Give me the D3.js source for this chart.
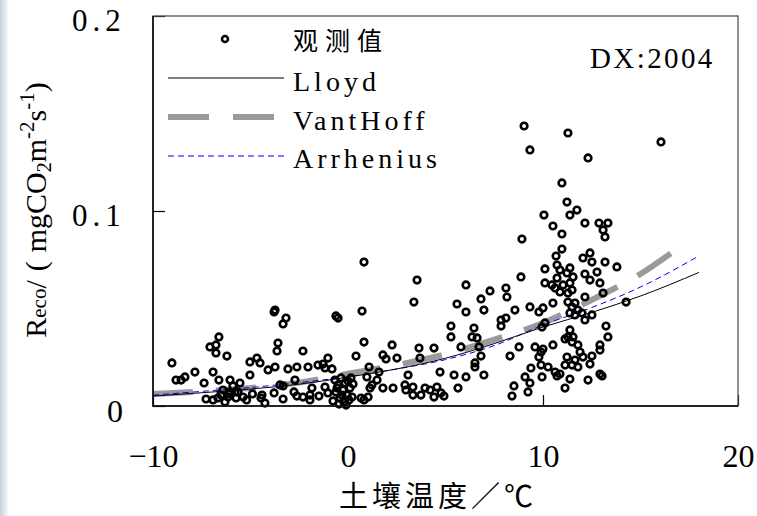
<!DOCTYPE html>
<html>
<head>
<meta charset="utf-8">
<script src="https://cdn.jsdelivr.net/npm/d3@7"></script>
<style>
  body { margin: 0; background: #fff; }
  svg { display: block; }
</style>
</head>
<body>
<svg id="chart"></svg>
<script>
// observed points (soil temperature, Reco)
const obsTemp = [
  -9.03,-8.82,-8.56,-8.36,-7.85,-7.38,-6.92,-6.62,-6.62,-7.08,-6.77,-6.77,-6.21,-6.05,-5.54,-5.90,-5.79,-6.05,-6.41,-5.03,
  -5.03,-4.67,-4.51,-4.10,-3.74,-3.59,-3.64,-3.79,-3.74,-3.18,-3.33,-3.49,-7.28,-6.92,-6.67,-6.31,-6.15,-5.74,-5.38,-4.46,
  -4.26,-4.41,-6.51,-5.64,-3.79,-3.33,-6.10,-5.20,-4.90,
  -0.62,-0.51,0.72,0.82,0.82,0.41,-2.31,2.26,1.79,1.95,2.51,-3.08,-2.62,-2.05,-1.54,-1.28,-1.03,-1.18,-0.82,-2.72,
  -2.77,-2.31,-1.95,-1.95,-1.49,-1.18,-1.03,-2.62,-3.33,-1.85,-0.67,-0.51,-0.36,-0.26,-0.15,-0.05,-0.41,-0.62,-0.21,0.05,
  0.15,0.10,-0.77,-0.46,-0.10,0.21,-0.31,0.26,-0.56,0.00,0.67,1.03,0.82,1.08,1.59,0.97,1.49,1.13,1.79,2.31,
  2.92,2.97,3.08,1.23,
  3.38,3.54,3.64,3.69,4.41,4.72,3.33,3.74,3.95,4.21,4.56,4.77,4.92,4.41,3.33,5.44,6.05,5.64,5.28,5.28,
  5.59,6.05,6.05,5.79,6.46,6.62,6.36,6.72,6.82,6.51,6.51,6.97,6.82,6.97,7.28,7.85,7.85,8.10,8.10,8.15,
  8.31,8.77,8.87,8.56,8.51,9.08,9.33,8.41,9.23,
  9.38,9.90,9.95,9.59,9.90,9.79,9.33,9.79,10.00,10.10,9.95,10.10,10.10,8.92,9.03,9.33,11.28,12.31,16.05,10.97,
  11.23,11.74,11.38,10.05,10.51,10.97,12.15,12.87,13.33,13.08,13.18,10.97,10.67,12.41,12.05,13.18,12.51,10.72,10.87,11.23,
  11.38,11.54,13.79,12.77,12.92,12.41,12.15,10.46,10.72,10.62,10.87,11.03,11.38,11.49,11.28,13.08,12.15,14.26,10.51,11.28,
  11.49,11.64,11.79,11.38,11.64,12.00,12.15,12.51,13.23,11.38,11.28,13.33,11.13,11.54,11.79,11.49,10.51,12.92,12.92,10.00,
  11.90,12.05,12.51,11.64,11.23,11.13,11.49,11.79,12.41,10.26,10.62,10.87,10.72,11.38,12.31,12.92,13.03,11.13
];
const obsReco = [
  0.0221,0.0133,0.0133,0.0149,0.0174,0.0118,0.0174,0.0133,0.0354,0.0303,0.0313,0.0272,0.0256,0.0133,0.0118,0.0103,0.0072,0.0072,0.0082,0.0159,
  0.0226,0.0246,0.0221,0.0185,0.0200,0.0323,0.0282,0.0482,0.0492,0.0451,0.0421,0.0108,0.0036,0.0031,0.0041,0.0021,0.0046,0.0041,0.0046,0.0041,
  0.0015,0.0056,0.0056,0.0072,0.0067,0.0103,0.0062,0.0031,0.0062,
  0.0462,0.0451,0.0487,0.0738,0.0328,0.0256,0.0282,0.0313,0.0262,0.0241,0.0246,0.0190,0.0200,0.0200,0.0210,0.0215,0.0246,0.0195,0.0190,0.0133,
  0.0072,0.0046,0.0056,0.0031,0.0051,0.0097,0.0067,0.0051,0.0036,0.0092,0.0133,0.0108,0.0144,0.0082,0.0118,0.0056,0.0041,0.0072,0.0021,0.0031,
  0.0144,0.0092,0.0026,0.0010,0.0005,0.0046,0.0056,0.0113,0.0092,0.0128,0.0041,0.0046,0.0031,0.0200,0.0174,0.0149,0.0133,0.0092,0.0092,0.0092,
  0.0108,0.0082,0.0159,0.0108,
  0.0533,0.0646,0.0297,0.0246,0.0297,0.0174,0.0056,0.0056,0.0092,0.0082,0.0097,0.0067,0.0051,0.0046,0.0097,0.0159,0.0149,0.0092,0.0410,0.0354,
  0.0523,0.0482,0.0621,0.0303,0.0400,0.0349,0.0354,0.0303,0.0256,0.0221,0.0200,0.0159,0.0549,0.0492,0.0590,0.0441,0.0410,0.0451,0.0605,0.0559,
  0.0256,0.0303,0.0662,0.0492,0.0103,0.0149,0.0118,0.0051,0.0072,
  0.0195,0.0210,0.0149,0.0303,0.0277,0.0251,0.0508,0.0482,0.0503,0.0426,0.0405,0.0703,0.0631,0.0856,0.1436,0.1313,0.1400,0.1272,0.1354,0.1144,
  0.1046,0.1005,0.0979,0.0979,0.0923,0.0882,0.0938,0.0938,0.0938,0.0903,0.0867,0.0805,0.0769,0.0785,0.0759,0.0738,0.0738,0.0723,0.0697,0.0682,
  0.0708,0.0662,0.0713,0.0687,0.0631,0.0646,0.0677,0.0621,0.0656,0.0605,0.0585,0.0621,0.0631,0.0595,0.0579,0.0579,0.0559,0.0533,0.0528,0.0533,
  0.0508,0.0528,0.0492,0.0477,0.0467,0.0477,0.0441,0.0467,0.0410,0.0390,0.0354,0.0354,0.0344,0.0354,0.0313,0.0328,0.0313,0.0313,0.0287,0.0292,
  0.0277,0.0251,0.0256,0.0236,0.0251,0.0210,0.0210,0.0200,0.0215,0.0200,0.0174,0.0164,0.0154,0.0138,0.0133,0.0164,0.0154,0.0092
];

// fitted curves
const curveTemp = [-10, -7.5, -5, -2.5, 0, 2.5, 5, 7.5, 10, 12.5, 15, 18];
const lloydVals = [0.0051, 0.0068, 0.0087, 0.0112, 0.0148, 0.0190, 0.0245, 0.0320, 0.0405, 0.0480, 0.0564, 0.0685];
const arrheniusVals = [0.0056, 0.0075, 0.0095, 0.0120, 0.0150, 0.0190, 0.0238, 0.0310, 0.0415, 0.0505, 0.0610, 0.0770];
const vantHoffTemp = [-10, -7.5, -5, -2.5, 0, 2.5, 5, 7.5, 10, 12.5, 15, 17];
const vantHoffVals = [0.0062, 0.0075, 0.0092, 0.0120, 0.0165, 0.0210, 0.0265, 0.0340, 0.0426, 0.0544, 0.0677, 0.0815];

const xTicks = [-10, 0, 10, 20];
const yTicks = [0, 0.1, 0.2];
const yTickLabels = ["0", "0.1", "0.2"];

const width = 757, height = 516;
const svg = d3.select("#chart").attr("width", width).attr("height", height);

const x = d3.scaleLinear().domain([-10, 20]).range([153, 738]);
const y = d3.scaleLinear().domain([0, 0.2]).range([406, 16]);

const serifFont = "'Liberation Serif', 'DejaVu Serif', serif";
const cjkFont = "'Noto Sans CJK SC', sans-serif";

// faint strip on the left edge of the screenshot
const defs = svg.append("defs");
const grad = defs.append("linearGradient").attr("id", "edge").attr("x1", 0).attr("x2", 1);
grad.append("stop").attr("offset", 0).attr("stop-color", "#c5cfdc");
grad.append("stop").attr("offset", 1).attr("stop-color", "#ffffff");
svg.append("rect").attr("x", 0).attr("y", 0).attr("width", 9).attr("height", height).attr("fill", "url(#edge)");

// axes (ticks point inward)
const xAxis = svg.append("g")
  .attr("transform", "translate(0,406)")
  .call(d3.axisBottom(x).tickValues(xTicks).tickSize(-11).tickPadding(0));
xAxis.select(".domain").remove();
xAxis.selectAll("line").attr("stroke", "#000").attr("stroke-width", 1.2);
xAxis.selectAll("text")
  .attr("y", 61).attr("dy", 0)
  .attr("fill", "#000")
  .style("font-family", serifFont)
  .style("font-size", "32px");

const yAxis = svg.append("g")
  .attr("transform", "translate(153,0)")
  .call(d3.axisLeft(y).tickValues(yTicks).tickSize(-12).tickPadding(0)
    .tickFormat((d, i) => yTickLabels[i]));
yAxis.select(".domain").remove();
yAxis.selectAll("line").attr("stroke", "#000").attr("stroke-width", 1.2);
yAxis.selectAll("text")
  .attr("text-anchor", (d, i) => i === 0 ? "end" : "start")
  .attr("x", (d, i) => i === 0 ? -30 : -81)
  .attr("dy", (d, i) => i === 0 ? 15 : 14)
  .attr("fill", "#000")
  .style("font-family", serifFont)
  .style("font-size", (d, i) => i === 0 ? "32px" : "31px")
  .style("letter-spacing", (d, i) => i === 0 ? "0px" : "5px");

// fitted lines
const line = (xs) => d3.line()
  .x((d, i) => x(xs[i]))
  .y(d => y(d))
  .curve(d3.curveMonotoneX);

svg.append("path")
  .attr("d", line(vantHoffTemp)(vantHoffVals))
  .attr("fill", "none")
  .attr("stroke", "#9a9a9a")
  .attr("stroke-width", 6)
  .attr("stroke-dasharray", "40,23");

svg.append("path")
  .attr("d", line(curveTemp)(arrheniusVals))
  .attr("fill", "none")
  .attr("stroke", "#0000ff")
  .attr("stroke-width", 1)
  .attr("stroke-dasharray", "6,4");

svg.append("path")
  .attr("d", line(curveTemp)(lloydVals))
  .attr("fill", "none")
  .attr("stroke", "#000")
  .attr("stroke-width", 1);

// observations
svg.append("g").selectAll("circle")
  .data(obsTemp)
  .enter()
  .append("circle")
  .attr("cx", d => x(d))
  .attr("cy", (d, i) => y(obsReco[i]))
  .attr("r", 3.3)
  .attr("fill", "none")
  .attr("stroke", "#000")
  .attr("stroke-width", 2.6);

// frame: left/bottom black, top/right a little lighter
svg.append("rect")
  .attr("x", 153).attr("y", 16)
  .attr("width", 738 - 153).attr("height", 406 - 16)
  .attr("fill", "none")
  .attr("stroke", "#555")
  .attr("stroke-width", 1.3);
svg.append("path")
  .attr("d", `M${x(-10)},${y(0.2)}V${y(0)}H${x(20)}`)
  .attr("fill", "none")
  .attr("stroke", "#000")
  .attr("stroke-width", 1.5);

// legend
const legend = svg.append("g");
legend.append("circle")
  .attr("cx", 225).attr("cy", 39).attr("r", 3)
  .attr("fill", "none").attr("stroke", "#000").attr("stroke-width", 2.5);
legend.append("text")
  .attr("x", 293).attr("y", 50)
  .style("font-family", cjkFont).style("font-size", "25px").style("letter-spacing", "7px")
  .text("观测值");

legend.append("line")
  .attr("x1", 168).attr("x2", 284).attr("y1", 78).attr("y2", 78)
  .attr("stroke", "#000").attr("stroke-width", 1);
legend.append("line")
  .attr("x1", 168).attr("x2", 274).attr("y1", 117).attr("y2", 117)
  .attr("stroke", "#9a9a9a").attr("stroke-width", 6).attr("stroke-dasharray", "41,24");
legend.append("line")
  .attr("x1", 168).attr("x2", 284).attr("y1", 156).attr("y2", 156)
  .attr("stroke", "#0000ff").attr("stroke-width", 1).attr("stroke-dasharray", "6,4");

const legendNames = ["Lloyd", "VantHoff", "Arrhenius"];
legend.selectAll(".lname")
  .data(legendNames)
  .enter()
  .append("text")
  .attr("class", "lname")
  .attr("x", 293)
  .attr("y", (d, i) => 91 + i * 38.5)
  .style("font-family", serifFont)
  .style("font-size", "28px")
  .style("letter-spacing", "4px")
  .text(d => d);

svg.append("text")
  .attr("x", 590).attr("y", 68)
  .style("font-family", serifFont)
  .style("font-size", "29px")
  .style("letter-spacing", "2.4px")
  .text("DX:2004");

// axis titles
svg.append("text")
  .attr("x", 339).attr("y", 507)
  .style("font-family", cjkFont)
  .style("font-size", "29px")
  .style("letter-spacing", "4px")
  .text("土壤温度／℃");

const yTitle = svg.append("text")
  .attr("transform", "translate(46,210) rotate(-90)")
  .attr("text-anchor", "middle")
  .style("font-family", serifFont)
  .style("font-size", "30px");
yTitle.append("tspan").text("R");
yTitle.append("tspan").style("font-size", "21px").text("eco");
yTitle.append("tspan").style("letter-spacing", "9px").text("/(");
yTitle.append("tspan").text("mgCO");
yTitle.append("tspan").attr("dy", 5).style("font-size", "20px").text("2");
yTitle.append("tspan").attr("dy", -5).text("m");
yTitle.append("tspan").attr("dy", -12).style("font-size", "21px").text("-2");
yTitle.append("tspan").attr("dy", 12).text("s");
yTitle.append("tspan").attr("dy", -12).style("font-size", "21px").text("-1");
yTitle.append("tspan").attr("dy", 12).text(")");
</script>
</body>
</html>
